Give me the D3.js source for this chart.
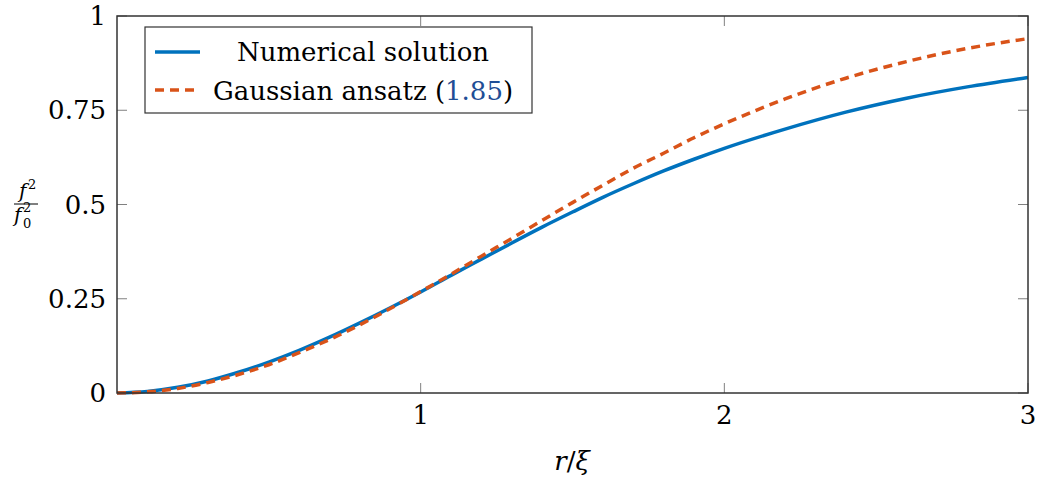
<!DOCTYPE html>
<html>
<head>
<meta charset="utf-8">
<script src="https://cdn.jsdelivr.net/npm/d3@7"></script>
<style>
  body { margin: 0; background: #fff; }
</style>
</head>
<body>
<div id="chart"></div>
<script>
const width = 1044
const height = 480
const margin = { top: 16, right: 16, bottom: 87, left: 117 }
const font = '"DejaVu Serif", "Liberation Serif", serif'

// r / xi sample points
const rValues = [0, 0.1, 0.2, 0.3, 0.4, 0.5, 0.6, 0.7, 0.8, 0.9, 1.0, 1.1, 1.2, 1.3, 1.4, 1.5, 1.6, 1.7, 1.8, 1.9, 2.0, 2.2, 2.4, 2.6, 2.8, 3.0]
const numerical = [0, 0.004, 0.015, 0.032, 0.055, 0.082, 0.113, 0.148, 0.186, 0.226, 0.268, 0.312, 0.355, 0.398, 0.44, 0.48, 0.519, 0.555, 0.589, 0.62, 0.649, 0.70, 0.745, 0.782, 0.812, 0.837]
const gaussian = [0, 0.003, 0.012, 0.028, 0.049, 0.075, 0.107, 0.142, 0.181, 0.224, 0.269, 0.315, 0.363, 0.410, 0.458, 0.505, 0.551, 0.596, 0.636, 0.677, 0.714, 0.780, 0.835, 0.879, 0.914, 0.940]
const xTicks = [1, 2, 3]
const yTicks = [0, 0.25, 0.5, 0.75, 1]
const yTickLabels = ['0', '0.25', '0.5', '0.75', '1']

const blue = '#0072BD'
const orange = '#D95319'

const svg = d3.select('#chart').append('svg')
  .attr('width', width)
  .attr('height', height)
  .attr('font-family', font)

const x = d3.scaleLinear().domain([0, 3]).range([margin.left, width - margin.right])
const y = d3.scaleLinear().domain([0, 1]).range([height - margin.bottom, margin.top])

const x0 = x(0), x1 = x(3), y0 = y(0), y1 = y(1)

// tick marks on all four sides, pointing inward
const ticks = svg.append('g').attr('stroke', '#808080').attr('stroke-width', 1)
xTicks.forEach(t => {
  ticks.append('line').attr('x1', x(t)).attr('x2', x(t)).attr('y1', y0).attr('y2', y0 - 10)
  ticks.append('line').attr('x1', x(t)).attr('x2', x(t)).attr('y1', y1).attr('y2', y1 + 10)
})
yTicks.forEach(t => {
  ticks.append('line').attr('x1', x0).attr('x2', x0 + 10).attr('y1', y(t)).attr('y2', y(t))
  ticks.append('line').attr('x1', x1).attr('x2', x1 - 10).attr('y1', y(t)).attr('y2', y(t))
})

const line = d3.line()
  .x((d, i) => x(rValues[i]))
  .y(d => y(d))
  .curve(d3.curveMonotoneX)

svg.append('path')
  .datum(numerical)
  .attr('d', line)
  .attr('fill', 'none')
  .attr('stroke', blue)
  .attr('stroke-width', 3.5)

svg.append('path')
  .datum(gaussian)
  .attr('d', line)
  .attr('fill', 'none')
  .attr('stroke', orange)
  .attr('stroke-width', 3.5)
  .attr('stroke-dasharray', '9,6')

// frame
svg.append('rect')
  .attr('x', x0).attr('y', y1)
  .attr('width', x1 - x0).attr('height', y0 - y1)
  .attr('fill', 'none')
  .attr('stroke', '#333')
  .attr('stroke-width', 1.5)

// tick labels
svg.append('g').selectAll('text')
  .data(xTicks)
  .enter().append('text')
  .attr('x', d => x(d))
  .attr('y', y0 + 31)
  .attr('text-anchor', 'middle')
  .attr('font-size', 26)
  .text(d => d)

svg.append('g').selectAll('text')
  .data(yTicks)
  .enter().append('text')
  .attr('x', x0 - 11)
  .attr('y', d => y(d) + 9)
  .attr('text-anchor', 'end')
  .attr('font-size', 26)
  .text((d, i) => yTickLabels[i])

// x label
const xl = svg.append('text')
  .attr('x', 572).attr('y', 470)
  .attr('text-anchor', 'middle')
  .attr('font-size', 26)
xl.append('tspan').attr('font-style', 'italic').text('r')
xl.append('tspan').text('/')
xl.append('tspan').attr('font-style', 'italic').text('ξ')

// y label as a fraction
svg.append('text').attr('x', 19).attr('y', 198).attr('font-size', 20).attr('font-style', 'italic').text('f')
svg.append('text').attr('x', 28).attr('y', 189).attr('font-size', 13).text('2')
svg.append('line').attr('x1', 14).attr('x2', 38).attr('y1', 204).attr('y2', 204).attr('stroke', '#000').attr('stroke-width', 1)
svg.append('text').attr('x', 14).attr('y', 222).attr('font-size', 20).attr('font-style', 'italic').text('f')
svg.append('text').attr('x', 23).attr('y', 212).attr('font-size', 13).text('2')
svg.append('text').attr('x', 23).attr('y', 228).attr('font-size', 13).text('0')

// legend
const lg = svg.append('g')
lg.append('rect')
  .attr('x', 145).attr('y', 27).attr('width', 387).attr('height', 86)
  .attr('fill', '#fff').attr('stroke', '#333').attr('stroke-width', 1.2)
lg.append('line').attr('x1', 155).attr('x2', 200).attr('y1', 52).attr('y2', 52)
  .attr('stroke', blue).attr('stroke-width', 3.5)
lg.append('line').attr('x1', 155).attr('x2', 200).attr('y1', 90).attr('y2', 90)
  .attr('stroke', orange).attr('stroke-width', 3.5).attr('stroke-dasharray', '9,6')
lg.append('text').attr('x', 363).attr('y', 61).attr('text-anchor', 'middle').attr('font-size', 26)
  .text('Numerical solution')
const g2 = lg.append('text').attr('x', 363).attr('y', 100).attr('text-anchor', 'middle').attr('font-size', 26)
g2.append('tspan').text('Gaussian ansatz (')
g2.append('tspan').attr('fill', '#1f4e96').text('1.85')
g2.append('tspan').text(')')
</script>
</body>
</html>
